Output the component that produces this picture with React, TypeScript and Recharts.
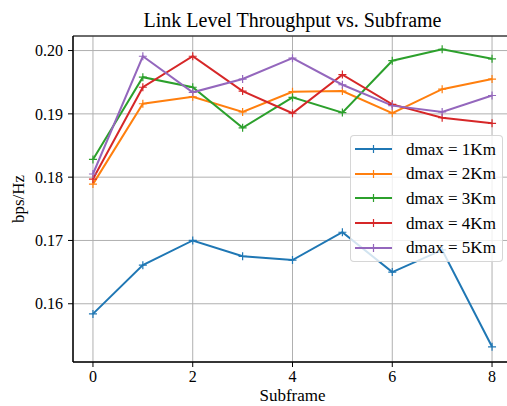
import React from "react";
import {
  CartesianGrid,
  Legend,
  Line,
  LineChart,
  ReferenceArea,
  XAxis,
  YAxis,
} from "recharts";

const subframes = [0, 1, 2, 3, 4, 5, 6, 7, 8];
const dmax1 = [0.1584, 0.1661, 0.17, 0.1675, 0.1669, 0.1713, 0.165, 0.1685, 0.1532];
const dmax2 = [0.1789, 0.1916, 0.1927, 0.1903, 0.1935, 0.1936, 0.1901, 0.1939, 0.1955];
const dmax3 = [0.1828, 0.1958, 0.1942, 0.1878, 0.1926, 0.1902, 0.1984, 0.2002, 0.1987];
const dmax4 = [0.1797, 0.1942, 0.1991, 0.1936, 0.1901, 0.1962, 0.1915, 0.1894, 0.1885];
const dmax5 = [0.1805, 0.1991, 0.1934, 0.1955, 0.1988, 0.1946, 0.1913, 0.1903, 0.1929];
const xTicks = [0, 2, 4, 6, 8];
const yTicks = [0.16, 0.17, 0.18, 0.19, 0.2];

const series = [
  { key: "d1", name: "dmax = 1Km", values: dmax1, color: "#1f77b4" },
  { key: "d2", name: "dmax = 2Km", values: dmax2, color: "#ff7f0e" },
  { key: "d3", name: "dmax = 3Km", values: dmax3, color: "#2ca02c" },
  { key: "d4", name: "dmax = 4Km", values: dmax4, color: "#d62728" },
  { key: "d5", name: "dmax = 5Km", values: dmax5, color: "#9467bd" },
];

const rows = subframes.map((sf, i) => {
  const row: Record<string, number> = { sf };
  series.forEach((s) => (row[s.key] = s.values[i]));
  return row;
});

const FONT = "'Liberation Serif', 'Times New Roman', serif";
const Y_MIN = 0.1508;
const Y_MAX = 0.2023;

function PlusDot(props: any) {
  const { cx, cy, stroke } = props;
  if (cx == null || cy == null) return null;
  return (
    <path
      d={`M${cx - 4},${cy}h8M${cx},${cy - 4}v8`}
      stroke={stroke}
      strokeWidth={1.2}
      fill="none"
    />
  );
}

function LegendBox(props: any) {
  const items = props.payload || [];
  return (
    <div
      style={{
        boxSizing: "border-box",
        width: 153,
        height: 127,
        paddingTop: 1,
        background: "rgba(255,255,255,0.8)",
        border: "1px solid rgba(204,204,204,0.8)",
        borderRadius: 4,
        fontFamily: FONT,
        fontSize: 17,
        color: "#000",
      }}
    >
      {items.map((it: any) => (
        <div
          key={it.value}
          style={{ height: 24.6, display: "flex", alignItems: "center" }}
        >
          <svg width={55} height={24} style={{ flex: "none" }}>
            <line x1={4} x2={41} y1={12} y2={12} stroke={it.color} strokeWidth={2} />
            <path d="M18.5,12h8M22.5,8v8" stroke={it.color} strokeWidth={1.2} />
          </svg>
          <span style={{ lineHeight: 1 }}>{it.value}</span>
        </div>
      ))}
    </div>
  );
}

export default function App() {
  const tick = { fontFamily: FONT, fontSize: 16, fill: "#000" };
  return (
    <div
      style={{
        position: "absolute",
        left: 0,
        top: 0,
        width: 507,
        height: 406,
        overflow: "hidden",
        background: "#fff",
      }}
    >
      <div
        style={{
          position: "absolute",
          left: 0,
          width: 585,
          top: 10,
          textAlign: "center",
          fontFamily: FONT,
          fontSize: 20,
          lineHeight: 1,
          color: "#000",
        }}
      >
        Link Level Throughput vs. Subframe
      </div>
      <LineChart
        width={512}
        height={406}
        data={rows}
        margin={{ top: 36, right: 0, bottom: 0, left: 0 }}
      >
        <CartesianGrid stroke="#b0b0b0" strokeWidth={1} />
        <XAxis
          dataKey="sf"
          type="number"
          domain={[-0.4, 8.4]}
          ticks={xTicks}
          allowDataOverflow
          height={44}
          tickSize={5}
          tickMargin={4}
          tick={tick}
          stroke="#000"
          tickLine={{ stroke: "#000" }}
          axisLine={{ stroke: "#000" }}
          label={{
            value: "Subframe",
            position: "insideBottom",
            offset: 5,
            style: { fontFamily: FONT, fontSize: 17, fill: "#000" },
          }}
        />
        <YAxis
          type="number"
          domain={[Y_MIN, Y_MAX]}
          ticks={yTicks}
          allowDataOverflow
          width={73}
          tickSize={5}
          tickMargin={5}
          tick={tick}
          tickFormatter={(v: number) => v.toFixed(2)}
          stroke="#000"
          tickLine={{ stroke: "#000" }}
          axisLine={{ stroke: "#000" }}
          label={{
            value: "bps/Hz",
            angle: -90,
            position: "insideLeft",
            offset: 18,
            style: { fontFamily: FONT, fontSize: 17, fill: "#000", textAnchor: "middle" },
          }}
        />
        <ReferenceArea
          x1={-0.4}
          x2={8.4}
          y1={Y_MIN}
          y2={Y_MAX}
          fill="none"
          stroke="#000"
          strokeWidth={1}
          fillOpacity={0}
        />
        {series.map((s) => (
          <Line
            key={s.key}
            dataKey={s.key}
            name={s.name}
            type="linear"
            stroke={s.color}
            strokeWidth={2}
            dot={(p: any) => <PlusDot key={`${s.key}-${p.index}`} {...p} stroke={s.color} />}
            activeDot={false}
            isAnimationActive={false}
          />
        ))}
        <Legend
          layout="vertical"
          align="center"
          verticalAlign="middle"
          wrapperStyle={{ left: 350, top: 135, width: 153 }}
          content={<LegendBox />}
        />
      </LineChart>
    </div>
  );
}
